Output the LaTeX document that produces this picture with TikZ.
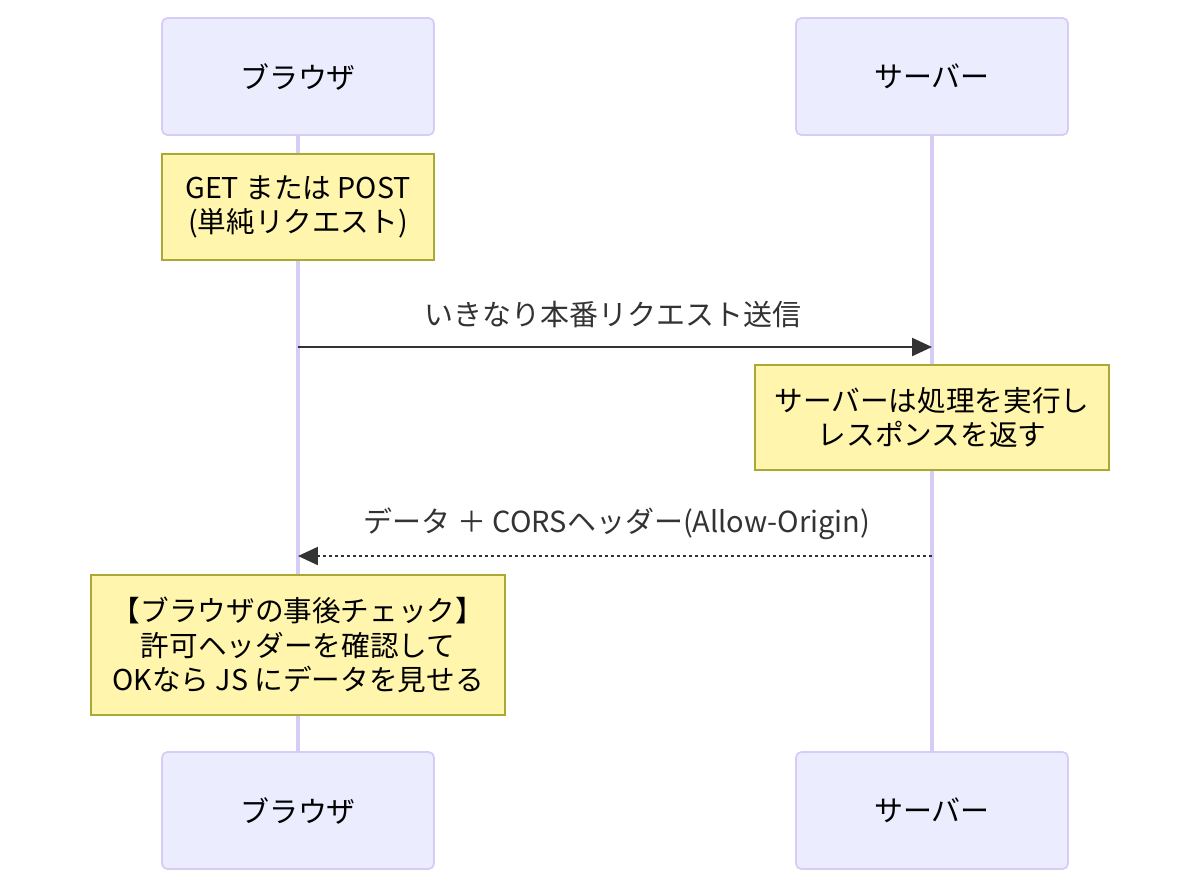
\documentclass[tikz,border=0pt]{standalone}
\usepackage{fontspec}
\setmainfont{Noto Sans CJK JP}
\usepackage{tikz}
\usetikzlibrary{arrows.meta}

\definecolor{actorfill}{HTML}{ECECFF}
\definecolor{actorline}{HTML}{D6CCF5}
\definecolor{notefill}{HTML}{FFF5AD}
\definecolor{noteline}{HTML}{AAAA33}
\definecolor{msgline}{HTML}{333333}

\begin{document}
\begin{tikzpicture}[x=0.02cm, y=-0.02cm,
	actor/.style={rectangle, rounded corners=3pt, draw=actorline, line width=1pt, fill=actorfill, minimum width=5.44cm, minimum height=2.34cm, font=\fontsize{16.5}{20}\selectfont},
	note/.style={rectangle, draw=noteline, line width=1pt, fill=notefill, align=center, inner sep=0pt, font=\fontsize{16.3}{19.6}\selectfont},
	life/.style={draw=actorline, line width=1.8pt},
	msg/.style={draw=msgline, line width=1.3pt, -{Triangle[length=0.4cm, width=0.36cm]}},
	lbl/.style={font=\fontsize{16.5}{20}\selectfont, text=msgline}]
	\useasboundingbox (0,0) rectangle (1200,890);
	% actors
	\node[actor] (browserTop) at (298,76.5){ブラウザ};
	\node[actor] (serverTop) at (932,76.5){サーバー};
	\node[actor] (browserBot) at (298,810.5){ブラウザ};
	\node[actor] (serverBot) at (932,810.5){サーバー};

	\path (browserTop) edge[life] (browserBot);
	\path (serverTop) edge[life] (serverBot);

	% notes
	\node[note, minimum width=5.44cm, minimum height=2.12cm] (simple) at (298,207){GET または POST\\(単純リクエスト)};
	\node[note, minimum width=7.08cm, minimum height=2.1cm] (process) at (932,417.5){サーバーは処理を実行し\\レスポンスを返す};
	\node[note, minimum width=8.28cm, minimum height=2.8cm] (check) at (298,645){【ブラウザの事後チェック】\\許可ヘッダーを確認して\\OKなら JS にデータを見せる};

	% messages
	\coordinate (req0) at (298,347);
	\coordinate (req1) at (932,347);
	\coordinate (res0) at (932,556);
	\coordinate (res1) at (298,556);
	\path (req0) edge[msg] (req1);
	\path (res0) edge[msg, dash pattern=on 0.07cm off 0.05cm] (res1);
	\node[lbl] (reqLabel) at (613,314){いきなり本番リクエスト送信};
	\node[lbl] (resLabel) at (617,524){データ ＋ CORSヘッダー(Allow-Origin)};
\end{tikzpicture}
\end{document}
